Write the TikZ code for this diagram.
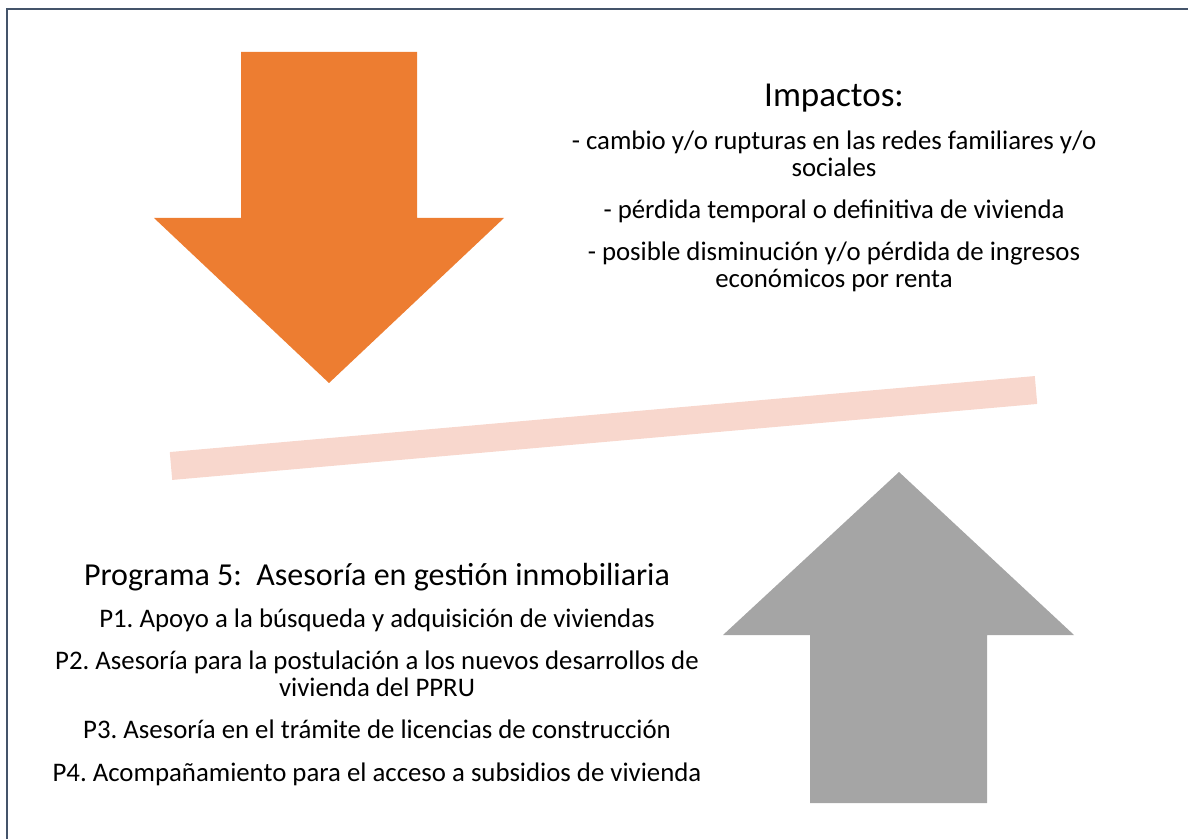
\documentclass[tikz,border=0pt]{standalone}
\usepackage{fontspec}
\setmainfont{Carlito}
\frenchspacing
\usetikzlibrary{chains,positioning}

\definecolor{impactorange}{HTML}{ED7D31}
\definecolor{programgray}{HTML}{A5A5A5}
\definecolor{beampink}{HTML}{F8D7CD}
\definecolor{framegray}{HTML}{44546A}

\begin{document}
\begin{tikzpicture}[x=1pt, y=1pt,
    body/.style={align=center, inner sep=0pt, font=\fontsize{26.8}{27}\selectfont,
      execute at begin node=\strut, execute at end node=\strut},
    heading/.style={body, font=\fontsize{32}{27}\selectfont},
    node distance=15pt]
    \useasboundingbox (0,0) rectangle (1188,839);
    \draw[framegray, line width=2pt] (7,0) -- (7,829.5) -- (1188,829.5);

    % beam and the two arrows
    \draw[beampink, line width=28pt] (171,373) -- (1036,449);
    \fill[impactorange] (241,787) -- (417,787) -- (417,621) -- (504,621)
      -- (329,456) -- (154,621) -- (241,621) -- cycle;
    \fill[programgray] (810,36) -- (987,36) -- (987,204) -- (1074,204)
      -- (899,367) -- (723,204) -- (810,204) -- cycle;

    % impacts
    \begin{scope}[start chain=impacts going below]
    \node[heading, font=\fontsize{35}{27}\selectfont, on chain, anchor=base] (I0) at (834,732) {Impactos:};
    \node[body, on chain] (I1) {- cambio y/o rupturas en las redes familiares y/o\\sociales};
    \node[body, on chain] (I2) {- pérdida temporal o definitiva de vivienda};
    \node[body, on chain] (I3) {- posible disminución y/o pérdida de ingresos\\económicos por renta};
    \end{scope}

    % program
    \begin{scope}[start chain=program going below]
    \node[heading, on chain, anchor=base] (P0) at (377,254) {Programa 5:\ \ Asesoría en gestión inmobiliaria};
    \node[body, on chain] (P1) {P1. Apoyo a la búsqueda y adquisición de viviendas};
    \node[body, on chain] (P2) {P2. Asesoría para la postulación a los nuevos desarrollos de\\vivienda del PPRU};
    \node[body, on chain] (P3) {P3. Asesoría en el trámite de licencias de construcción};
    \node[body, on chain] (P4) {P4. Acompañamiento para el acceso a subsidios de vivienda};
    \end{scope}
\end{tikzpicture}
\end{document}
